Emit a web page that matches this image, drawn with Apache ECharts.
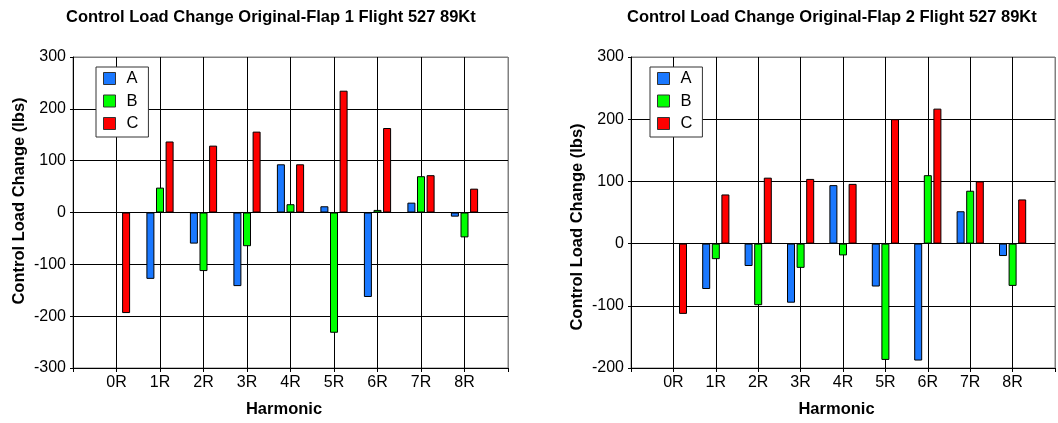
<!DOCTYPE html>
<html>
<head>
<meta charset="utf-8">
<script src="https://cdn.jsdelivr.net/npm/echarts@6/dist/echarts.min.js"></script>
<style>
  html, body { margin: 0; background: #fff; }
  #chart { width: 1058px; height: 423px; }
</style>
</head>
<body>
<div id="chart"></div>
<script>
const harmonics = ['0R', '1R', '2R', '3R', '4R', '5R', '6R', '7R', '8R'];
const seriesNames = ['A', 'B', 'C'];
const colors = ['#1a78ff', '#00ff00', '#ff0000'];

// Flap 1
const flap1A = [null, -128, -60, -142, 93, 12, -163, 19, -8];
const flap1B = [null, 48, -113, -65, 16, -232, 5, 70, -48];
const flap1C = [-194, 137, 129, 156, 93, 235, 163, 72, 46];

// Flap 2
const flap2A = [null, -73, -36, -95, 94, -69, -188, 52, -20];
const flap2B = [null, -25, -99, -39, -19, -187, 110, 85, -68];
const flap2C = [-113, 79, 106, 104, 96, 200, 217, 100, 71];

const titles = [
  'Control Load Change Original-Flap 1 Flight 527 89Kt',
  'Control Load Change Original-Flap 2 Flight 527 89Kt'
];

const font = 'Liberation Sans, Arial, sans-serif';

// empty slot at each end so the categories sit on the grid lines
const pad = arr => [null, ...arr, null];
const axisCats = ['', ...harmonics, ''];

function lineColors(count) {
  const list = [];
  for (let i = 0; i < count - 1; i++) list.push('#000');
  list.push('#808080');
  return list;
}

function xAxis(idx) {
  return {
    type: 'category',
    gridIndex: idx,
    data: axisCats,
    boundaryGap: false,
    name: 'Harmonic',
    nameLocation: 'middle',
    nameGap: 33,
    nameTextStyle: { fontFamily: font, fontSize: 16.5, fontWeight: 'bold', color: '#000', padding: [0, 13, 0, 0] },
    axisLine: { onZero: false, lineStyle: { color: '#000', width: 1 } },
    axisTick: { show: true, length: 4, lineStyle: { color: '#000' } },
    axisLabel: { fontFamily: font, fontSize: 16, color: '#000', margin: 7, interval: 0 },
    splitLine: { show: true, lineStyle: { color: lineColors(axisCats.length), width: 1 } }
  };
}

function yAxis(idx, min, max, namePad) {
  return {
    type: 'value',
    gridIndex: idx,
    min: min,
    max: max,
    interval: 100,
    name: 'Control Load Change (lbs)',
    nameLocation: 'middle',
    nameGap: 45,
    nameTextStyle: { fontFamily: font, fontSize: 16.5, fontWeight: 'bold', color: '#000', padding: namePad },
    axisLine: { show: true, lineStyle: { color: '#000', width: 1 } },
    axisTick: { show: true, length: 3, lineStyle: { color: '#000' } },
    axisLabel: { fontFamily: font, fontSize: 16, color: '#000', margin: 7 },
    splitLine: { show: true, lineStyle: { color: lineColors((max - min) / 100 + 1), width: 1 } }
  };
}

function barSeries(idx, data) {
  return data.map((values, i) => ({
    name: seriesNames[i],
    type: 'bar',
    xAxisIndex: idx,
    yAxisIndex: idx,
    data: pad(values),
    barWidth: 8,
    barGap: '20%',
    itemStyle: { color: colors[i], borderColor: '#000', borderWidth: 1 }
  }));
}

function legend(left) {
  return {
    orient: 'vertical',
    left: left,
    top: 67,
    data: seriesNames,
    icon: 'rect',
    itemWidth: 12,
    itemHeight: 12,
    itemGap: 5.5,
    padding: [3, 10, 5, 7],
    borderColor: '#333',
    borderWidth: 1,
    backgroundColor: '#fff',
    selectedMode: false,
    itemStyle: { borderColor: '#333', borderWidth: 1 },
    textStyle: { fontFamily: font, fontSize: 16.5, color: '#000', padding: [0, 0, 0, 6] }
  };
}

const chart = echarts.init(document.getElementById('chart'), null, { renderer: 'canvas' });

chart.setOption({
  animation: false,
  backgroundColor: '#fff',
  color: colors,
  title: [
    { text: titles[0], left: 66, top: 9, padding: 0,
      textStyle: { fontFamily: font, fontSize: 16.5, fontWeight: 'bold', color: '#000' } },
    { text: titles[1], left: 627, top: 9, padding: 0,
      textStyle: { fontFamily: font, fontSize: 16.5, fontWeight: 'bold', color: '#000' } }
  ],
  legend: [legend(96), legend(650)],
  grid: [
    { left: 73, top: 57, width: 435, height: 315, show: true, borderColor: '#808080', borderWidth: 1 },
    { left: 631, top: 57, width: 435, height: 315, show: true, borderColor: '#808080', borderWidth: 1 }
  ],
  xAxis: [xAxis(0), xAxis(1)],
  yAxis: [
    yAxis(0, -300, 300, [0, 0, 0, 23]),
    yAxis(1, -200, 300, [0, 29, 0, 0])
  ],
  series: [
    ...barSeries(0, [flap1A, flap1B, flap1C]),
    ...barSeries(1, [flap2A, flap2B, flap2C])
  ]
});
</script>
</body>
</html>
